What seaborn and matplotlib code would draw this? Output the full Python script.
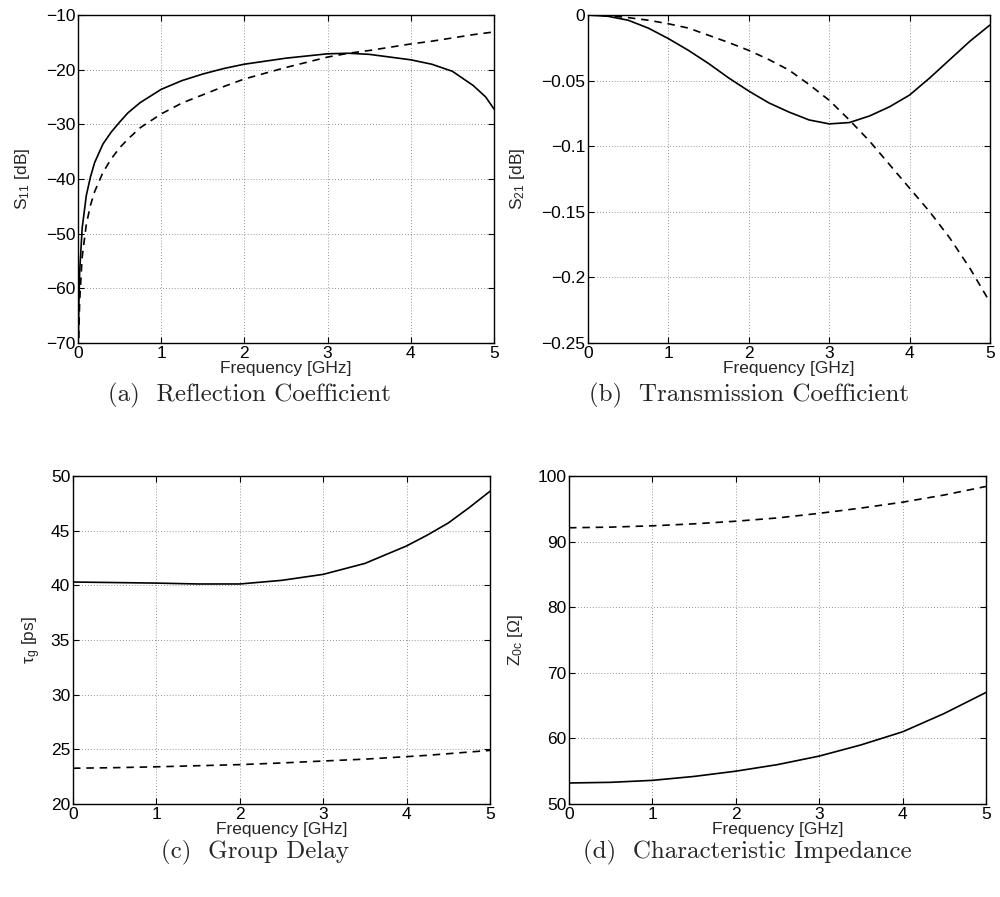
import numpy as np
import pandas as pd
import seaborn as sns
from matplotlib import pyplot as plt

# frequency points [GHz] and read-off values for each panel
freq_a = [0.005, 0.01, 0.02, 0.05, 0.1, 0.15, 0.2, 0.3, 0.4, 0.5, 0.6, 0.75, 1, 1.25,
          1.5, 1.75, 2, 2.5, 3, 3.25, 3.5, 4, 4.25, 4.5, 4.75, 4.9, 5]
s11_solid = [-69, -63, -57, -49, -43, -39.6, -37, -33.6, -31.4, -29.6, -27.9, -26, -23.6,
             -22, -20.8, -19.8, -19, -17.9, -17.1, -17.0, -17.2, -18.2, -19.0, -20.3,
             -22.9, -25.0, -27.2]
s11_dash = [-74, -68.3, -62.3, -54.3, -48.3, -44.8, -42.3, -38.8, -36.3, -34.3, -32.7,
            -30.6, -28.1, -26.1, -24.6, -23.1, -21.7, -19.6, -17.7, -17.0, -16.5, -15.3,
            -14.8, -14.2, -13.6, -13.3, -13.1]

freq_b = [0, 0.25, 0.5, 0.75, 1, 1.25, 1.5, 1.75, 2, 2.25, 2.5, 2.75, 3, 3.25, 3.5,
          3.75, 4, 4.25, 4.5, 4.75, 5]
s21_solid = [0, -0.001, -0.004, -0.010, -0.018, -0.027, -0.037, -0.048, -0.058, -0.067,
             -0.074, -0.080, -0.083, -0.082, -0.077, -0.070, -0.061, -0.048, -0.034,
             -0.020, -0.0076]
s21_dash = [0, -0.0005, -0.002, -0.004, -0.0067, -0.010, -0.0155, -0.021, -0.027, -0.034,
            -0.042, -0.053, -0.065, -0.080, -0.096, -0.114, -0.132, -0.150, -0.170,
            -0.193, -0.219]

freq_c = [0, 0.5, 1, 1.5, 2, 2.5, 3, 3.5, 4, 4.25, 4.5, 4.75, 5]
tau_solid = [40.3, 40.25, 40.2, 40.12, 40.12, 40.45, 41.0, 42.0, 43.6, 44.6, 45.7, 47.1, 48.6]
tau_dash = [23.27, 23.32, 23.4, 23.5, 23.6, 23.75, 23.93, 24.1, 24.33, 24.45, 24.6, 24.75, 24.9]

freq_d = [0, 0.5, 1, 1.5, 2, 2.5, 3, 3.5, 4, 4.5, 5]
z0_solid = [53.2, 53.3, 53.6, 54.2, 55.0, 56.0, 57.3, 59.0, 61.0, 63.8, 67.0]
z0_dash = [92.1, 92.2, 92.4, 92.7, 93.1, 93.6, 94.3, 95.1, 96.0, 97.1, 98.4]

sns.set_style('ticks')
plt.rcParams['font.family'] = ['Liberation Sans', 'DejaVu Sans']
plt.rcParams['mathtext.default'] = 'regular'

fig = plt.figure(figsize=(10, 8.97), dpi=100)


def panel(rect, x, y1, y2, ylim, yticks, ylabel, caption, cap_xy, lpad):
    ax = fig.add_axes(rect)
    df = pd.DataFrame({'f': x, 'solid': y1, 'dash': y2})
    sns.lineplot(data=df, x='f', y='solid', ax=ax, color='k', linewidth=1.2)
    sns.lineplot(data=df, x='f', y='dash', ax=ax, color='k', linewidth=1.2,
                 linestyle=(0, (4.5, 3.5)))
    ax.set_xlim(0, 5)
    ax.set_ylim(*ylim)
    ax.set_xticks(range(6))
    ax.set_yticks(yticks)
    ax.set_yticklabels([('%g' % t).replace('-', '\u2212') for t in yticks])
    ax.grid(True, color='0.45', linestyle=(0, (1, 2.5)), linewidth=0.6)
    ax.tick_params(direction='in', length=4, width=0.8, labelsize=12.5, pad=2,
                   top=True, right=True, colors='k')
    for s in ax.spines.values():
        s.set_linewidth(1.0)
        s.set_color('k')
    ax.set_xlabel('Frequency [GHz]', fontsize=12.5, labelpad=0)
    ax.set_ylabel(ylabel, fontsize=12.5, labelpad=lpad)
    fig.text(cap_xy[0], cap_xy[1], caption, family='cmr10', fontsize=18,
             ha='center', va='center')
    return ax


panel([0.078, 0.6176, 0.416, 0.3657], freq_a, s11_solid, s11_dash, (-70, -10),
      [-70, -60, -50, -40, -30, -20, -10], r'S$_{11}$ [dB]',
      '(a)  Reflection Coefficient', (0.249, 0.5596), 10)
panel([0.588, 0.6176, 0.402, 0.3657], freq_b, s21_solid, s21_dash, (-0.25, 0),
      [-0.25, -0.2, -0.15, -0.1, -0.05, 0], r'S$_{21}$ [dB]',
      '(b)  Transmission Coefficient', (0.749, 0.5596), 10)
panel([0.073, 0.1037, 0.417, 0.3657], freq_c, tau_solid, tau_dash, (20, 50),
      [20, 25, 30, 35, 40, 45, 50], r'$\tau_g$ [ps]',
      '(c)  Group Delay', (0.255, 0.0502), 6)
panel([0.569, 0.1037, 0.417, 0.3657], freq_d, z0_solid, z0_dash, (50, 100),
      [50, 60, 70, 80, 90, 100], 'Z$_{0c}$ [\u03a9]',
      '(d)  Characteristic Impedance', (0.747, 0.0502), 9)

fig.savefig('out.png', dpi=100)
